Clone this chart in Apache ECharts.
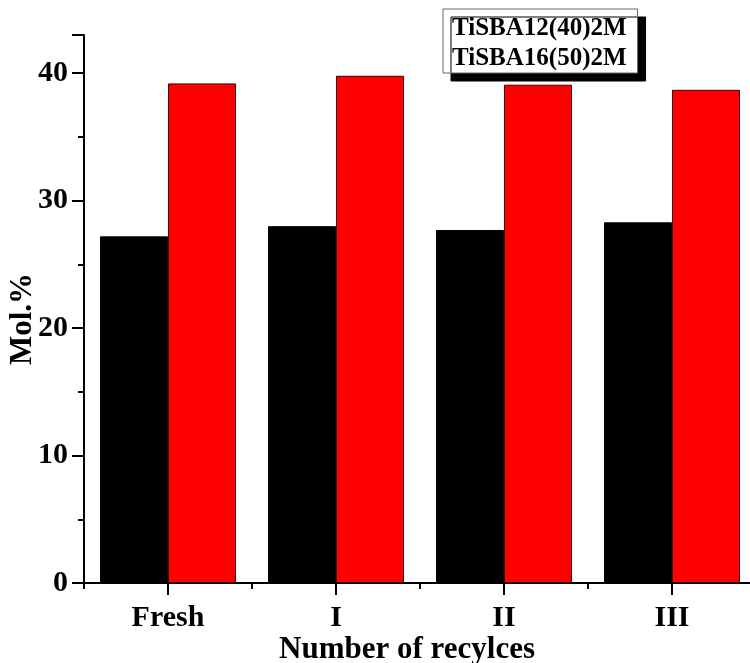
<!DOCTYPE html>
<html>
<head>
<meta charset="utf-8">
<script src="https://cdn.jsdelivr.net/npm/echarts@6/dist/echarts.min.js"></script>
<style>
html,body{margin:0;padding:0;background:#fff;}
#chart{width:750px;height:663px;}
</style>
</head>
<body>
<div id="chart"></div>
<script>
var categories = ['Fresh', 'I', 'II', 'III'];
var seriesNames = ['TiSBA12(40)2M', 'TiSBA16(50)2M'];
var tisba12 = [27.2, 28.0, 27.7, 28.3];
var tisba16 = [39.2, 39.8, 39.1, 38.7];
var yTicks = [0, 10, 20, 30, 40];

var FONT = '"Liberation Serif", "Times New Roman", serif';
var chart = echarts.init(document.getElementById('chart'));
chart.setOption({
  animation: false,
  backgroundColor: '#fff',
  legend: {
    data: seriesNames,
    orient: 'vertical',
    left: 443,
    top: 9,
    icon: 'none',
    itemWidth: 0,
    itemHeight: 25,
    itemGap: 5,
    padding: [7, 11, 2, 4],
    backgroundColor: '#fff',
    borderColor: '#666',
    borderWidth: 1,
    shadowColor: '#000',
    shadowBlur: 0,
    shadowOffsetX: 8,
    shadowOffsetY: 8,
    selectedMode: false,
    textStyle: {fontFamily: FONT, fontWeight: 'bold', fontSize: 25, color: '#000', padding: [0,0,0,0]}
  },
  grid: {left: 84, top: 35, width: 672, height: 548, containLabel: false, outerBoundsMode: 'none'},
  xAxis: [{
    type: 'category',
    data: categories,
    position: 'bottom',
    axisLine: {lineStyle: {color: '#000', width: 2}},
    axisTick: {show: true, alignWithLabel: true, length: 12, lineStyle: {color: '#000', width: 2}},
    axisLabel: {fontFamily: FONT, fontWeight: 'bold', fontSize: 30, color: '#000', margin: 20},
    name: 'Number of recylces',
    nameLocation: 'middle',
    nameGap: 51,
    nameMoveOverlap: false,
    nameTextStyle: {fontFamily: FONT, fontWeight: 'bold', fontSize: 31, color: '#000', padding: [0, 26, 0, 0]}
  }, {
    type: 'category',
    data: categories,
    position: 'bottom',
    axisLine: {show: false},
    axisTick: {show: true, alignWithLabel: false, length: 6, lineStyle: {color: '#000', width: 2}},
    axisLabel: {show: false}
  }],
  yAxis: {
    type: 'value',
    min: 0,
    max: 43,
    interval: 10,
    axisLine: {show: true, lineStyle: {color: '#000', width: 2}},
    axisTick: {show: true, length: 12, lineStyle: {color: '#000', width: 2}},
    minorTick: {show: true, splitNumber: 2, length: 6, lineStyle: {color: '#000', width: 2}},
    splitLine: {show: false},
    axisLabel: {
      fontFamily: FONT, fontWeight: 'bold', fontSize: 30, color: '#000', margin: 16,
      formatter: function (v) { return yTicks.indexOf(v) >= 0 ? String(v) : ''; }
    },
    name: 'Mol.%',
    nameLocation: 'middle',
    nameGap: 46,
    nameMoveOverlap: false,
    nameTextStyle: {fontFamily: FONT, fontWeight: 'bold', fontSize: 31, color: '#000', padding: [0, 20, 0, 0]}
  },
  series: [{
    name: seriesNames[0],
    type: 'bar',
    data: tisba12,
    barWidth: 68,
    barGap: '0%',
    itemStyle: {color: '#000', borderColor: '#000', borderWidth: 1}
  }, {
    name: seriesNames[1],
    type: 'bar',
    data: tisba16,
    barWidth: 68,
    barGap: '0%',
    itemStyle: {color: '#ff0000', borderColor: '#3a0000', borderWidth: 1}
  }]
});
</script>
</body>
</html>
